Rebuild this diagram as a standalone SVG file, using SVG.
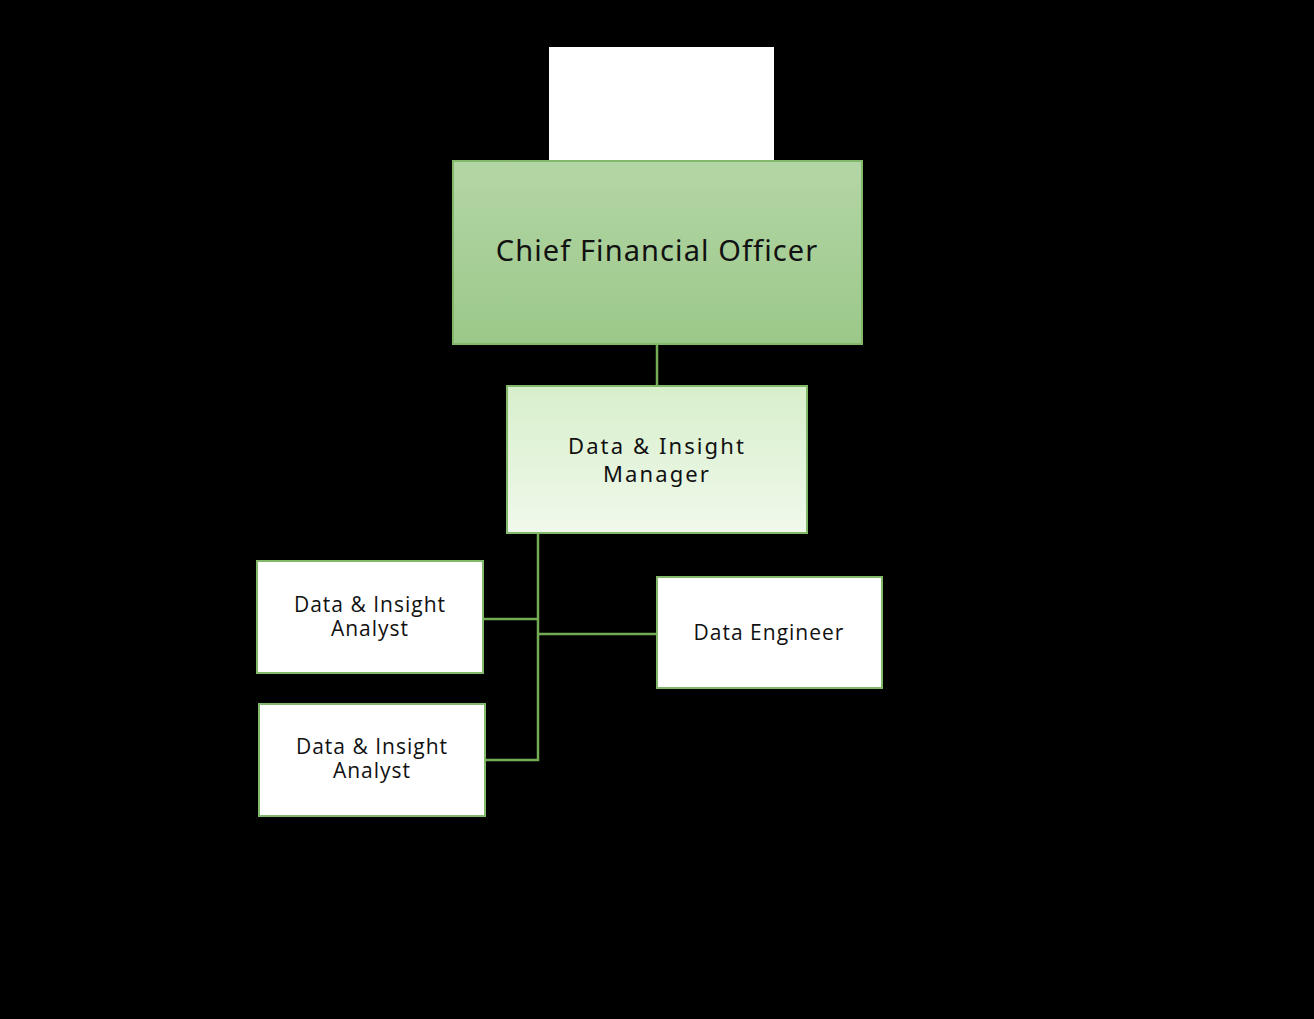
<svg xmlns="http://www.w3.org/2000/svg" width="1314" height="1019" viewBox="0 0 1314 1019">
<defs>
<linearGradient id="gCfo" x1="0" y1="0" x2="0" y2="1"><stop offset="0" stop-color="#b4d6a6"/><stop offset="1" stop-color="#9bc889"/></linearGradient>
<linearGradient id="gMgr" x1="0" y1="0" x2="0" y2="1"><stop offset="0" stop-color="#d8efcb"/><stop offset="1" stop-color="#f0f9ec"/></linearGradient>
<style>
.box{stroke:#82b86a;stroke-width:2}
.w{fill:#ffffff}
.conn{fill:none;stroke:#74ac56;stroke-width:2.5}
.t1{font-family:"Noto Sans","Open Sans",sans-serif;fill:#111;text-anchor:middle}
.t2{font-family:"Open Sans","Noto Sans",sans-serif;fill:#111;text-anchor:middle;font-size:21px;letter-spacing:1px}
</style>
</defs>
<rect width="1314" height="1019" fill="#000"/>
<rect x="549" y="47" width="225" height="113" fill="#fff"/>
<g id="connectors">
<path class="conn" d="M657 344 V386"/>
<path class="conn" d="M538 533 V760 H485"/>
<path class="conn" d="M483 619 H538"/>
<path class="conn" d="M538 634 H657"/>
</g>
<g id="cfo">
<rect class="box" x="453" y="161" width="409" height="183" fill="url(#gCfo)"/>
<text class="t1" x="657" y="261" font-size="29" letter-spacing="1.1">Chief Financial Officer</text>
</g>
<g id="manager">
<rect class="box" x="507" y="386" width="300" height="147" fill="url(#gMgr)"/>
<text class="t1" x="657" y="454" font-size="22" letter-spacing="2.1">Data &amp; Insight</text>
<text class="t1" x="657" y="482" font-size="22" letter-spacing="2.1">Manager</text>
</g>
<g id="analyst1">
<rect class="box w" x="257" y="561" width="226" height="112"/>
<text class="t2" x="370" y="612">Data &amp; Insight</text>
<text class="t2" x="370" y="636">Analyst</text>
</g>
<g id="analyst2">
<rect class="box w" x="259" y="704" width="226" height="112"/>
<text class="t2" x="372" y="754">Data &amp; Insight</text>
<text class="t2" x="372" y="778">Analyst</text>
</g>
<g id="engineer">
<rect class="box w" x="657" y="577" width="225" height="111"/>
<text class="t2" x="769" y="640">Data Engineer</text>
</g>
</svg>
